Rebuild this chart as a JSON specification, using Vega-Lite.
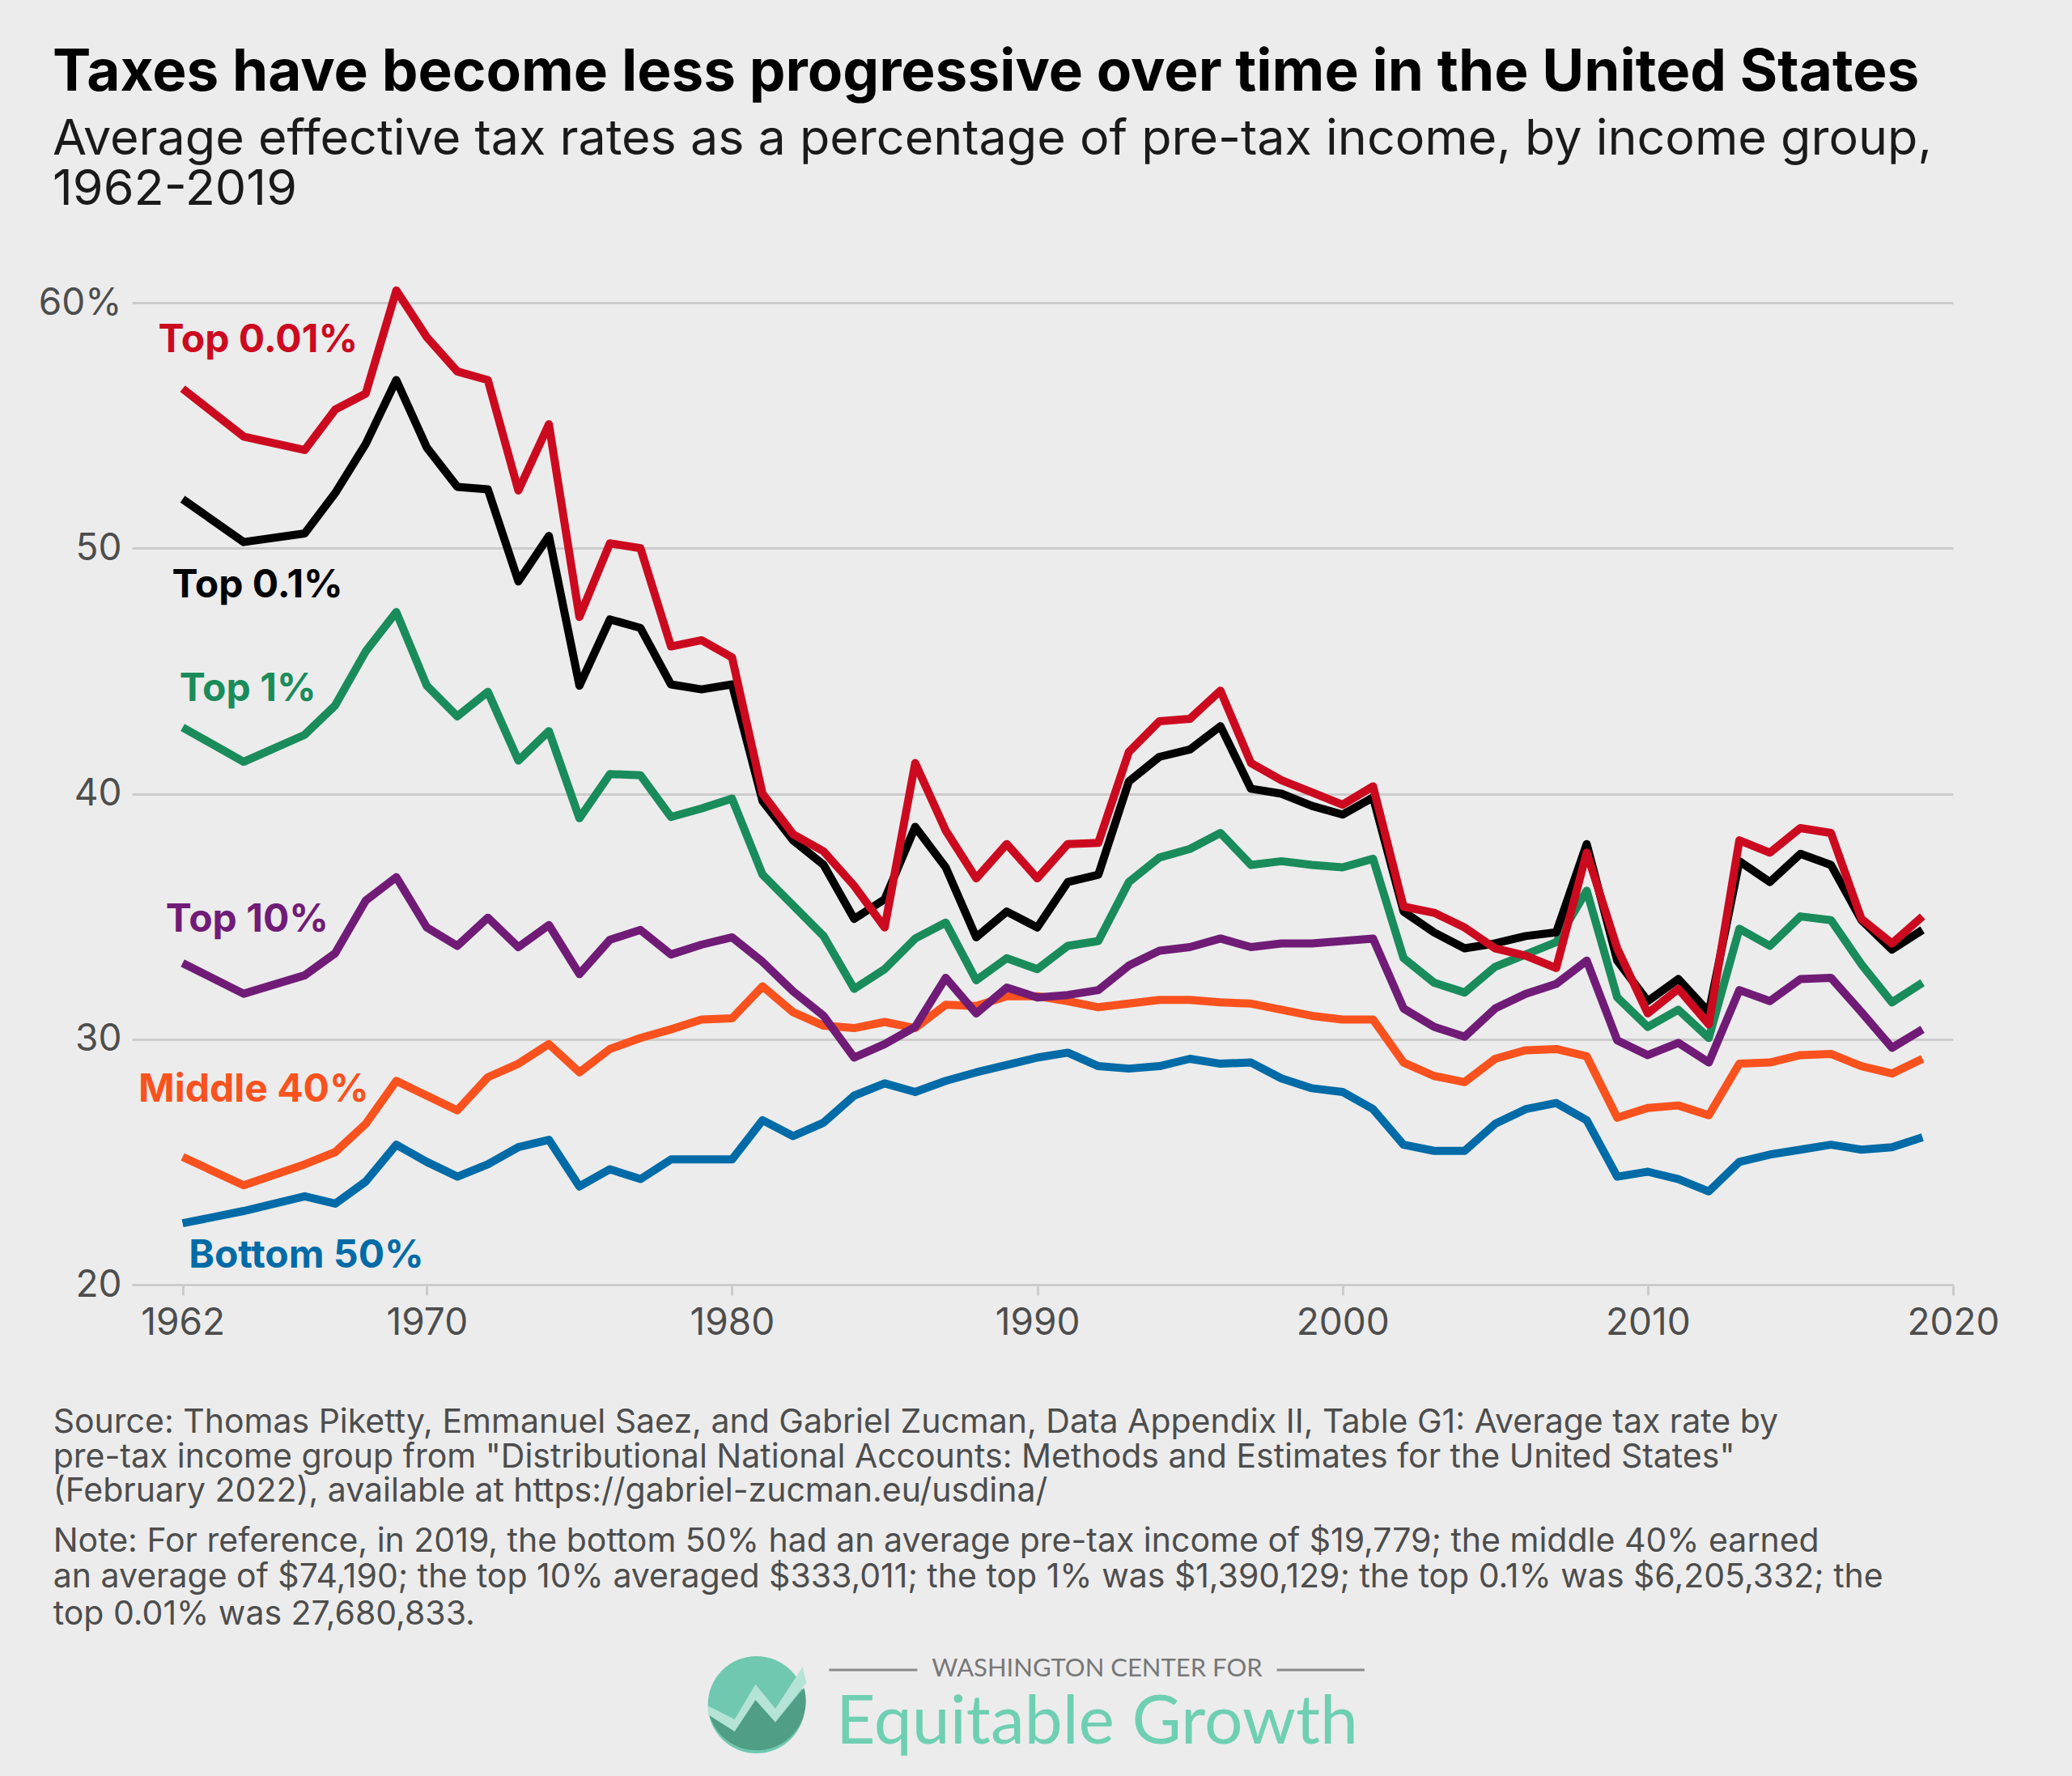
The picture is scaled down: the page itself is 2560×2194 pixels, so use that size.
{
"$schema":"https://vega.github.io/schema/vega-lite/v6.json",
"autosize":{"type":"none"},
"width":2250,"height":1213,
"padding":{"left":163,"top":374,"right":147,"bottom":607},
"background":"#ECECEC",
"config":{"view":{"stroke":null},"font":"Inter"},
"title":{"text":"Taxes have become less progressive over time in the United States","subtitle":["Average effective tax rates as a percentage of pre-tax income, by income group,","1962-2019"],"anchor":"start","frame":"group","dx":-98,"offset":85,"font":"Inter","fontSize":71,"fontWeight":"bold","color":"#000000","subtitleFont":"Inter","subtitleFontSize":61,"subtitleColor":"#1a1a1a","subtitlePadding":16,"subtitleLineHeight":62},
"datasets":{
"rates":[
{"group":"Bottom 50%","year":1962,"rate":22.5},{"group":"Bottom 50%","year":1964,"rate":23.0},{"group":"Bottom 50%","year":1966,"rate":23.6},{"group":"Bottom 50%","year":1967,"rate":23.3},{"group":"Bottom 50%","year":1968,"rate":24.2},{"group":"Bottom 50%","year":1969,"rate":25.7},{"group":"Bottom 50%","year":1970,"rate":25.0},{"group":"Bottom 50%","year":1971,"rate":24.4},{"group":"Bottom 50%","year":1972,"rate":24.9},{"group":"Bottom 50%","year":1973,"rate":25.6},{"group":"Bottom 50%","year":1974,"rate":25.9},{"group":"Bottom 50%","year":1975,"rate":24.0},{"group":"Bottom 50%","year":1976,"rate":24.7},{"group":"Bottom 50%","year":1977,"rate":24.3},{"group":"Bottom 50%","year":1978,"rate":25.1},{"group":"Bottom 50%","year":1979,"rate":25.1},{"group":"Bottom 50%","year":1980,"rate":25.1},{"group":"Bottom 50%","year":1981,"rate":26.7},{"group":"Bottom 50%","year":1982,"rate":26.05},{"group":"Bottom 50%","year":1983,"rate":26.6},{"group":"Bottom 50%","year":1984,"rate":27.7},{"group":"Bottom 50%","year":1985,"rate":28.2},{"group":"Bottom 50%","year":1986,"rate":27.85},{"group":"Bottom 50%","year":1987,"rate":28.3},{"group":"Bottom 50%","year":1988,"rate":28.65},{"group":"Bottom 50%","year":1989,"rate":28.95},{"group":"Bottom 50%","year":1990,"rate":29.25},{"group":"Bottom 50%","year":1991,"rate":29.45},{"group":"Bottom 50%","year":1992,"rate":28.9},{"group":"Bottom 50%","year":1993,"rate":28.8},{"group":"Bottom 50%","year":1994,"rate":28.9},{"group":"Bottom 50%","year":1995,"rate":29.2},{"group":"Bottom 50%","year":1996,"rate":29.0},{"group":"Bottom 50%","year":1997,"rate":29.05},{"group":"Bottom 50%","year":1998,"rate":28.4},{"group":"Bottom 50%","year":1999,"rate":28.0},{"group":"Bottom 50%","year":2000,"rate":27.85},{"group":"Bottom 50%","year":2001,"rate":27.15},{"group":"Bottom 50%","year":2002,"rate":25.7},{"group":"Bottom 50%","year":2003,"rate":25.45},{"group":"Bottom 50%","year":2004,"rate":25.45},{"group":"Bottom 50%","year":2005,"rate":26.55},{"group":"Bottom 50%","year":2006,"rate":27.15},{"group":"Bottom 50%","year":2007,"rate":27.4},{"group":"Bottom 50%","year":2008,"rate":26.7},{"group":"Bottom 50%","year":2009,"rate":24.4},{"group":"Bottom 50%","year":2010,"rate":24.6},{"group":"Bottom 50%","year":2011,"rate":24.3},{"group":"Bottom 50%","year":2012,"rate":23.8},{"group":"Bottom 50%","year":2013,"rate":25.0},{"group":"Bottom 50%","year":2014,"rate":25.3},{"group":"Bottom 50%","year":2015,"rate":25.5},{"group":"Bottom 50%","year":2016,"rate":25.7},{"group":"Bottom 50%","year":2017,"rate":25.5},{"group":"Bottom 50%","year":2018,"rate":25.6},{"group":"Bottom 50%","year":2019,"rate":26.0},
{"group":"Middle 40%","year":1962,"rate":25.2},{"group":"Middle 40%","year":1964,"rate":24.05},{"group":"Middle 40%","year":1966,"rate":24.9},{"group":"Middle 40%","year":1967,"rate":25.4},{"group":"Middle 40%","year":1968,"rate":26.55},{"group":"Middle 40%","year":1969,"rate":28.3},{"group":"Middle 40%","year":1970,"rate":27.7},{"group":"Middle 40%","year":1971,"rate":27.1},{"group":"Middle 40%","year":1972,"rate":28.45},{"group":"Middle 40%","year":1973,"rate":29.0},{"group":"Middle 40%","year":1974,"rate":29.8},{"group":"Middle 40%","year":1975,"rate":28.65},{"group":"Middle 40%","year":1976,"rate":29.6},{"group":"Middle 40%","year":1977,"rate":30.05},{"group":"Middle 40%","year":1978,"rate":30.4},{"group":"Middle 40%","year":1979,"rate":30.8},{"group":"Middle 40%","year":1980,"rate":30.85},{"group":"Middle 40%","year":1981,"rate":32.15},{"group":"Middle 40%","year":1982,"rate":31.1},{"group":"Middle 40%","year":1983,"rate":30.55},{"group":"Middle 40%","year":1984,"rate":30.45},{"group":"Middle 40%","year":1985,"rate":30.7},{"group":"Middle 40%","year":1986,"rate":30.45},{"group":"Middle 40%","year":1987,"rate":31.4},{"group":"Middle 40%","year":1988,"rate":31.35},{"group":"Middle 40%","year":1989,"rate":31.75},{"group":"Middle 40%","year":1990,"rate":31.75},{"group":"Middle 40%","year":1991,"rate":31.55},{"group":"Middle 40%","year":1992,"rate":31.3},{"group":"Middle 40%","year":1993,"rate":31.45},{"group":"Middle 40%","year":1994,"rate":31.6},{"group":"Middle 40%","year":1995,"rate":31.6},{"group":"Middle 40%","year":1996,"rate":31.5},{"group":"Middle 40%","year":1997,"rate":31.45},{"group":"Middle 40%","year":1998,"rate":31.2},{"group":"Middle 40%","year":1999,"rate":30.95},{"group":"Middle 40%","year":2000,"rate":30.8},{"group":"Middle 40%","year":2001,"rate":30.8},{"group":"Middle 40%","year":2002,"rate":29.05},{"group":"Middle 40%","year":2003,"rate":28.5},{"group":"Middle 40%","year":2004,"rate":28.25},{"group":"Middle 40%","year":2005,"rate":29.2},{"group":"Middle 40%","year":2006,"rate":29.55},{"group":"Middle 40%","year":2007,"rate":29.6},{"group":"Middle 40%","year":2008,"rate":29.3},{"group":"Middle 40%","year":2009,"rate":26.8},{"group":"Middle 40%","year":2010,"rate":27.2},{"group":"Middle 40%","year":2011,"rate":27.3},{"group":"Middle 40%","year":2012,"rate":26.9},{"group":"Middle 40%","year":2013,"rate":29.0},{"group":"Middle 40%","year":2014,"rate":29.05},{"group":"Middle 40%","year":2015,"rate":29.35},{"group":"Middle 40%","year":2016,"rate":29.4},{"group":"Middle 40%","year":2017,"rate":28.9},{"group":"Middle 40%","year":2018,"rate":28.6},{"group":"Middle 40%","year":2019,"rate":29.2},
{"group":"Top 10%","year":1962,"rate":33.1},{"group":"Top 10%","year":1964,"rate":31.85},{"group":"Top 10%","year":1966,"rate":32.6},{"group":"Top 10%","year":1967,"rate":33.5},{"group":"Top 10%","year":1968,"rate":35.65},{"group":"Top 10%","year":1969,"rate":36.6},{"group":"Top 10%","year":1970,"rate":34.55},{"group":"Top 10%","year":1971,"rate":33.8},{"group":"Top 10%","year":1972,"rate":34.95},{"group":"Top 10%","year":1973,"rate":33.75},{"group":"Top 10%","year":1974,"rate":34.65},{"group":"Top 10%","year":1975,"rate":32.65},{"group":"Top 10%","year":1976,"rate":34.05},{"group":"Top 10%","year":1977,"rate":34.45},{"group":"Top 10%","year":1978,"rate":33.45},{"group":"Top 10%","year":1979,"rate":33.85},{"group":"Top 10%","year":1980,"rate":34.15},{"group":"Top 10%","year":1981,"rate":33.15},{"group":"Top 10%","year":1982,"rate":31.95},{"group":"Top 10%","year":1983,"rate":30.95},{"group":"Top 10%","year":1984,"rate":29.25},{"group":"Top 10%","year":1985,"rate":29.8},{"group":"Top 10%","year":1986,"rate":30.5},{"group":"Top 10%","year":1987,"rate":32.5},{"group":"Top 10%","year":1988,"rate":31.05},{"group":"Top 10%","year":1989,"rate":32.1},{"group":"Top 10%","year":1990,"rate":31.7},{"group":"Top 10%","year":1991,"rate":31.8},{"group":"Top 10%","year":1992,"rate":32.0},{"group":"Top 10%","year":1993,"rate":33.0},{"group":"Top 10%","year":1994,"rate":33.6},{"group":"Top 10%","year":1995,"rate":33.75},{"group":"Top 10%","year":1996,"rate":34.1},{"group":"Top 10%","year":1997,"rate":33.75},{"group":"Top 10%","year":1998,"rate":33.9},{"group":"Top 10%","year":1999,"rate":33.9},{"group":"Top 10%","year":2000,"rate":34.0},{"group":"Top 10%","year":2001,"rate":34.1},{"group":"Top 10%","year":2002,"rate":31.25},{"group":"Top 10%","year":2003,"rate":30.5},{"group":"Top 10%","year":2004,"rate":30.1},{"group":"Top 10%","year":2005,"rate":31.25},{"group":"Top 10%","year":2006,"rate":31.85},{"group":"Top 10%","year":2007,"rate":32.25},{"group":"Top 10%","year":2008,"rate":33.2},{"group":"Top 10%","year":2009,"rate":29.95},{"group":"Top 10%","year":2010,"rate":29.35},{"group":"Top 10%","year":2011,"rate":29.85},{"group":"Top 10%","year":2012,"rate":29.05},{"group":"Top 10%","year":2013,"rate":32.0},{"group":"Top 10%","year":2014,"rate":31.55},{"group":"Top 10%","year":2015,"rate":32.45},{"group":"Top 10%","year":2016,"rate":32.5},{"group":"Top 10%","year":2017,"rate":31.1},{"group":"Top 10%","year":2018,"rate":29.65},{"group":"Top 10%","year":2019,"rate":30.4},
{"group":"Top 1%","year":1962,"rate":42.7},{"group":"Top 1%","year":1964,"rate":41.3},{"group":"Top 1%","year":1966,"rate":42.4},{"group":"Top 1%","year":1967,"rate":43.6},{"group":"Top 1%","year":1968,"rate":45.8},{"group":"Top 1%","year":1969,"rate":47.4},{"group":"Top 1%","year":1970,"rate":44.4},{"group":"Top 1%","year":1971,"rate":43.15},{"group":"Top 1%","year":1972,"rate":44.15},{"group":"Top 1%","year":1973,"rate":41.35},{"group":"Top 1%","year":1974,"rate":42.55},{"group":"Top 1%","year":1975,"rate":39.0},{"group":"Top 1%","year":1976,"rate":40.8},{"group":"Top 1%","year":1977,"rate":40.75},{"group":"Top 1%","year":1978,"rate":39.05},{"group":"Top 1%","year":1979,"rate":39.4},{"group":"Top 1%","year":1980,"rate":39.8},{"group":"Top 1%","year":1981,"rate":36.7},{"group":"Top 1%","year":1982,"rate":35.45},{"group":"Top 1%","year":1983,"rate":34.2},{"group":"Top 1%","year":1984,"rate":32.05},{"group":"Top 1%","year":1985,"rate":32.85},{"group":"Top 1%","year":1986,"rate":34.1},{"group":"Top 1%","year":1987,"rate":34.75},{"group":"Top 1%","year":1988,"rate":32.4},{"group":"Top 1%","year":1989,"rate":33.3},{"group":"Top 1%","year":1990,"rate":32.85},{"group":"Top 1%","year":1991,"rate":33.8},{"group":"Top 1%","year":1992,"rate":34.0},{"group":"Top 1%","year":1993,"rate":36.4},{"group":"Top 1%","year":1994,"rate":37.4},{"group":"Top 1%","year":1995,"rate":37.75},{"group":"Top 1%","year":1996,"rate":38.4},{"group":"Top 1%","year":1997,"rate":37.1},{"group":"Top 1%","year":1998,"rate":37.25},{"group":"Top 1%","year":1999,"rate":37.1},{"group":"Top 1%","year":2000,"rate":37.0},{"group":"Top 1%","year":2001,"rate":37.35},{"group":"Top 1%","year":2002,"rate":33.3},{"group":"Top 1%","year":2003,"rate":32.3},{"group":"Top 1%","year":2004,"rate":31.9},{"group":"Top 1%","year":2005,"rate":32.95},{"group":"Top 1%","year":2006,"rate":33.45},{"group":"Top 1%","year":2007,"rate":33.95},{"group":"Top 1%","year":2008,"rate":36.05},{"group":"Top 1%","year":2009,"rate":31.7},{"group":"Top 1%","year":2010,"rate":30.5},{"group":"Top 1%","year":2011,"rate":31.2},{"group":"Top 1%","year":2012,"rate":30.05},{"group":"Top 1%","year":2013,"rate":34.5},{"group":"Top 1%","year":2014,"rate":33.8},{"group":"Top 1%","year":2015,"rate":35.0},{"group":"Top 1%","year":2016,"rate":34.85},{"group":"Top 1%","year":2017,"rate":33.05},{"group":"Top 1%","year":2018,"rate":31.5},{"group":"Top 1%","year":2019,"rate":32.3},
{"group":"Top 0.1%","year":1962,"rate":52.0},{"group":"Top 0.1%","year":1964,"rate":50.25},{"group":"Top 0.1%","year":1966,"rate":50.6},{"group":"Top 0.1%","year":1967,"rate":52.25},{"group":"Top 0.1%","year":1968,"rate":54.25},{"group":"Top 0.1%","year":1969,"rate":56.85},{"group":"Top 0.1%","year":1970,"rate":54.1},{"group":"Top 0.1%","year":1971,"rate":52.5},{"group":"Top 0.1%","year":1972,"rate":52.4},{"group":"Top 0.1%","year":1973,"rate":48.65},{"group":"Top 0.1%","year":1974,"rate":50.5},{"group":"Top 0.1%","year":1975,"rate":44.4},{"group":"Top 0.1%","year":1976,"rate":47.1},{"group":"Top 0.1%","year":1977,"rate":46.75},{"group":"Top 0.1%","year":1978,"rate":44.45},{"group":"Top 0.1%","year":1979,"rate":44.25},{"group":"Top 0.1%","year":1980,"rate":44.45},{"group":"Top 0.1%","year":1981,"rate":39.7},{"group":"Top 0.1%","year":1982,"rate":38.1},{"group":"Top 0.1%","year":1983,"rate":37.1},{"group":"Top 0.1%","year":1984,"rate":34.9},{"group":"Top 0.1%","year":1985,"rate":35.7},{"group":"Top 0.1%","year":1986,"rate":38.65},{"group":"Top 0.1%","year":1987,"rate":37.0},{"group":"Top 0.1%","year":1988,"rate":34.15},{"group":"Top 0.1%","year":1989,"rate":35.2},{"group":"Top 0.1%","year":1990,"rate":34.55},{"group":"Top 0.1%","year":1991,"rate":36.4},{"group":"Top 0.1%","year":1992,"rate":36.7},{"group":"Top 0.1%","year":1993,"rate":40.5},{"group":"Top 0.1%","year":1994,"rate":41.5},{"group":"Top 0.1%","year":1995,"rate":41.8},{"group":"Top 0.1%","year":1996,"rate":42.75},{"group":"Top 0.1%","year":1997,"rate":40.2},{"group":"Top 0.1%","year":1998,"rate":40.0},{"group":"Top 0.1%","year":1999,"rate":39.5},{"group":"Top 0.1%","year":2000,"rate":39.15},{"group":"Top 0.1%","year":2001,"rate":39.85},{"group":"Top 0.1%","year":2002,"rate":35.2},{"group":"Top 0.1%","year":2003,"rate":34.35},{"group":"Top 0.1%","year":2004,"rate":33.7},{"group":"Top 0.1%","year":2005,"rate":33.9},{"group":"Top 0.1%","year":2006,"rate":34.2},{"group":"Top 0.1%","year":2007,"rate":34.35},{"group":"Top 0.1%","year":2008,"rate":37.95},{"group":"Top 0.1%","year":2009,"rate":33.2},{"group":"Top 0.1%","year":2010,"rate":31.55},{"group":"Top 0.1%","year":2011,"rate":32.45},{"group":"Top 0.1%","year":2012,"rate":31.1},{"group":"Top 0.1%","year":2013,"rate":37.25},{"group":"Top 0.1%","year":2014,"rate":36.4},{"group":"Top 0.1%","year":2015,"rate":37.55},{"group":"Top 0.1%","year":2016,"rate":37.1},{"group":"Top 0.1%","year":2017,"rate":34.85},{"group":"Top 0.1%","year":2018,"rate":33.65},{"group":"Top 0.1%","year":2019,"rate":34.45},
{"group":"Top 0.01%","year":1962,"rate":56.5},{"group":"Top 0.01%","year":1964,"rate":54.55},{"group":"Top 0.01%","year":1966,"rate":54.0},{"group":"Top 0.01%","year":1967,"rate":55.65},{"group":"Top 0.01%","year":1968,"rate":56.3},{"group":"Top 0.01%","year":1969,"rate":60.5},{"group":"Top 0.01%","year":1970,"rate":58.6},{"group":"Top 0.01%","year":1971,"rate":57.2},{"group":"Top 0.01%","year":1972,"rate":56.85},{"group":"Top 0.01%","year":1973,"rate":52.35},{"group":"Top 0.01%","year":1974,"rate":55.05},{"group":"Top 0.01%","year":1975,"rate":47.2},{"group":"Top 0.01%","year":1976,"rate":50.2},{"group":"Top 0.01%","year":1977,"rate":50.0},{"group":"Top 0.01%","year":1978,"rate":46.0},{"group":"Top 0.01%","year":1979,"rate":46.25},{"group":"Top 0.01%","year":1980,"rate":45.55},{"group":"Top 0.01%","year":1981,"rate":40.0},{"group":"Top 0.01%","year":1982,"rate":38.35},{"group":"Top 0.01%","year":1983,"rate":37.65},{"group":"Top 0.01%","year":1984,"rate":36.25},{"group":"Top 0.01%","year":1985,"rate":34.55},{"group":"Top 0.01%","year":1986,"rate":41.25},{"group":"Top 0.01%","year":1987,"rate":38.5},{"group":"Top 0.01%","year":1988,"rate":36.55},{"group":"Top 0.01%","year":1989,"rate":37.95},{"group":"Top 0.01%","year":1990,"rate":36.55},{"group":"Top 0.01%","year":1991,"rate":37.95},{"group":"Top 0.01%","year":1992,"rate":38.0},{"group":"Top 0.01%","year":1993,"rate":41.7},{"group":"Top 0.01%","year":1994,"rate":42.95},{"group":"Top 0.01%","year":1995,"rate":43.05},{"group":"Top 0.01%","year":1996,"rate":44.2},{"group":"Top 0.01%","year":1997,"rate":41.25},{"group":"Top 0.01%","year":1998,"rate":40.55},{"group":"Top 0.01%","year":1999,"rate":40.05},{"group":"Top 0.01%","year":2000,"rate":39.55},{"group":"Top 0.01%","year":2001,"rate":40.3},{"group":"Top 0.01%","year":2002,"rate":35.4},{"group":"Top 0.01%","year":2003,"rate":35.15},{"group":"Top 0.01%","year":2004,"rate":34.55},{"group":"Top 0.01%","year":2005,"rate":33.7},{"group":"Top 0.01%","year":2006,"rate":33.4},{"group":"Top 0.01%","year":2007,"rate":32.9},{"group":"Top 0.01%","year":2008,"rate":37.6},{"group":"Top 0.01%","year":2009,"rate":33.7},{"group":"Top 0.01%","year":2010,"rate":31.05},{"group":"Top 0.01%","year":2011,"rate":32.05},{"group":"Top 0.01%","year":2012,"rate":30.6},{"group":"Top 0.01%","year":2013,"rate":38.1},{"group":"Top 0.01%","year":2014,"rate":37.6},{"group":"Top 0.01%","year":2015,"rate":38.6},{"group":"Top 0.01%","year":2016,"rate":38.4},{"group":"Top 0.01%","year":2017,"rate":34.9},{"group":"Top 0.01%","year":2018,"rate":33.9},{"group":"Top 0.01%","year":2019,"rate":35.0}
],
"labels":[
{"group":"Top 0.01%","year":1961.2,"rate":58.45},
{"group":"Top 0.1%","year":1961.65,"rate":48.45},
{"group":"Top 1%","year":1961.9,"rate":44.25},
{"group":"Top 10%","year":1961.45,"rate":34.85},
{"group":"Middle 40%","year":1960.55,"rate":27.9},
{"group":"Bottom 50%","year":1962.2,"rate":21.15}
],
"notes":[
{"line":"Source: Thomas Piketty, Emmanuel Saez, and Gabriel Zucman, Data Appendix II, Table G1: Average tax rate by","year":1957.76,"rate":14.35},
{"line":"pre-tax income group from \"Distributional National Accounts: Methods and Estimates for the United States\"","year":1957.76,"rate":12.95},
{"line":"(February 2022), available at https://gabriel-zucman.eu/usdina/","year":1957.76,"rate":11.55},
{"line":"Note: For reference, in 2019, the bottom 50% had an average pre-tax income of $19,779; the middle 40% earned","year":1957.76,"rate":9.5},
{"line":"an average of $74,190; the top 10% averaged $333,011; the top 1% was $1,390,129; the top 0.1% was $6,205,332; the","year":1957.76,"rate":8.05},
{"line":"top 0.01% was 27,680,833.","year":1957.76,"rate":6.55}
],
"logoRules":[
{"year":1983.18,"year2":1986.07,"rate":4.3},
{"year":1997.85,"year2":2000.72,"rate":4.3}
],
"logoMark":[{"year":1980.8,"rate":2.885}],
"logoTop":[{"line":"WASHINGTON CENTER FOR","year":1991.96,"rate":4.35}],
"logoName":[{"line":"Equitable Growth","year":1991.96,"rate":2.12}]
},
"encoding":{
"x":{"field":"year","type":"quantitative","title":null,"scale":{"domain":[1960.34,2020],"nice":false,"zero":false},"axis":{"values":[1962,1970,1980,1990,2000,2010,2020],"format":"d","grid":false,"domainColor":"#CCCCCC","domainWidth":3,"tickColor":"#CCCCCC","tickWidth":3,"tickSize":13,"labelFontSize":46,"labelColor":"#4D4D4D","labelPadding":12,"labelFont":"Inter","labelFlush":false,"labelOverlap":false}},
"y":{"field":"rate","type":"quantitative","title":null,"scale":{"domain":[20,60],"nice":false,"zero":false},"axis":{"values":[20,30,40,50,60],"labelExpr":"datum.value === 60 ? '60%' : datum.label","domain":false,"ticks":false,"grid":true,"gridColor":"#CCCCCC","gridWidth":3,"labelFontSize":46,"labelColor":"#4D4D4D","labelPadding":13,"labelFont":"Inter"}}
},
"layer":[
{"data":{"name":"rates"},"mark":{"type":"line","strokeWidth":10,"strokeJoin":"round","strokeCap":"butt","clip":false},
"encoding":{"color":{"field":"group","type":"nominal","legend":null,"sort":null,"scale":{"domain":["Bottom 50%","Middle 40%","Top 10%","Top 1%","Top 0.1%","Top 0.01%"],"range":["#006BA6","#F9521E","#701C77","#1A8C5B","#000000","#CC0A1F"]}}}},
{"data":{"name":"labels"},"mark":{"type":"text","align":"left","baseline":"middle","fontWeight":"bold","fontSize":48,"font":"Inter"},
"encoding":{"text":{"field":"group"},"color":{"field":"group","type":"nominal","legend":null}}},
{"data":{"name":"notes"},"mark":{"type":"text","align":"left","baseline":"middle","fontSize":41,"font":"Inter","color":"#4D4D4D"},"encoding":{"text":{"field":"line"}}},
{"data":{"name":"logoRules"},"mark":{"type":"rule","color":"#8A8A8A","strokeWidth":3},"encoding":{"x2":{"field":"year2"}}},
{"data":{"name":"logoTop"},"mark":{"type":"text","align":"center","baseline":"middle","fontSize":31,"font":"Lato","color":"#777777"},"encoding":{"text":{"field":"line"}}},
{"data":{"name":"logoName"},"mark":{"type":"text","align":"center","baseline":"middle","fontSize":84,"font":"Lato","color":"#6FCFB2"},"encoding":{"text":{"field":"line"}}},
{"data":{"name":"logoMark"},"mark":{"type":"point","filled":true,"opacity":1,"shape":"circle","size":14400,"color":"#6FC8AF","strokeWidth":0}},
{"data":{"name":"logoMark"},"mark":{"type":"point","filled":true,"opacity":1,"shape":"M-.97 .2L-.45 .55L-.02 -.1L.39 .36L.98 -.35A1 1 0 0 1 -.97 .2Z","size":14400,"color":"#509E85","strokeWidth":0}},
{"data":{"name":"logoMark"},"mark":{"type":"point","filled":true,"opacity":1,"shape":"M-1 .02L-.45 .3L-.02 -.42L.39 .08L.95 -.78L1.03 -.45L.39 .36L-.02 -.1L-.45 .55L-1 .2Z","size":14400,"color":"#B5E3D6","strokeWidth":0}}
]
}
